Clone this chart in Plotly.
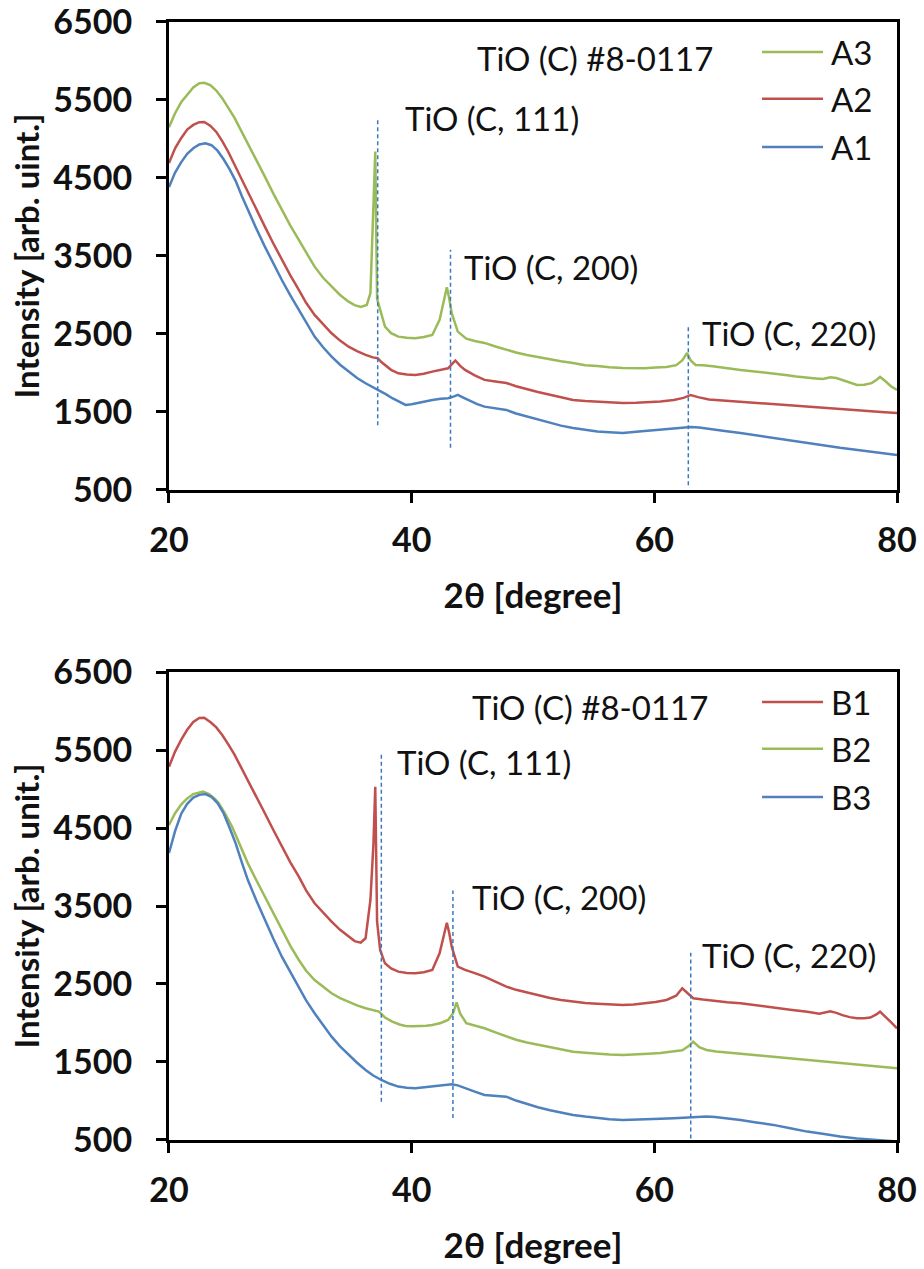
import plotly.graph_objects as go

# ---------------- data: panel A ----------------
a3_x = [20.0, 20.5, 21.0, 21.5, 22.0, 22.5, 22.9, 23.4, 23.9, 24.4, 24.9, 25.4, 25.9, 26.5, 27.2,
        27.9, 28.6, 29.3, 30.0, 30.7, 31.3, 32.0, 32.7, 33.4, 34.1, 34.8, 35.3, 35.8, 36.3, 36.6,
        36.85, 37.0, 37.15, 37.4, 37.8, 38.3, 38.9, 39.6, 40.3, 41.0, 41.7, 42.3, 42.6, 42.9,
        43.1, 43.3, 43.8, 44.5, 45.2, 46.0, 46.9, 47.8, 48.6, 49.5, 50.4, 51.4, 52.3, 53.3, 54.3,
        55.3, 56.3, 57.4, 58.3, 59.2, 60.1, 61.0, 61.8, 62.3, 62.7, 63.0, 63.4, 64.0, 64.8, 65.8,
        66.5, 67.1, 68.0, 69.0, 69.9, 70.8, 71.7, 72.6, 73.3, 73.9, 74.5, 75.0, 75.6, 76.2, 76.7,
        77.3, 77.9, 78.3, 78.6, 79.0, 79.5, 80.0]
a3_y = [5150, 5330, 5470, 5570, 5660, 5715, 5720, 5690, 5620, 5520, 5400, 5270, 5120, 4945, 4730,
        4517, 4300, 4090, 3890, 3705, 3540, 3363, 3220, 3107, 3000, 2914, 2870, 2846, 2872, 3022,
        4100, 4840, 2950, 2808, 2594, 2510, 2466, 2450, 2445, 2460, 2487, 2680, 2900, 3100,
        2950, 2766, 2530, 2440, 2410, 2385, 2340, 2295, 2262, 2230, 2205, 2170, 2150, 2128, 2100,
        2090, 2072, 2064, 2058, 2060, 2070, 2077, 2100, 2160, 2256, 2160, 2103, 2100, 2085, 2060,
        2050, 2038, 2025, 2010, 1990, 1975, 1955, 1936, 1930, 1922, 1945, 1935, 1900, 1870, 1846,
        1850, 1870, 1910, 1949, 1900, 1830, 1782]

a2_x = [20.0, 20.5, 21.0, 21.5, 22.0, 22.5, 22.9, 23.4, 23.9, 24.4, 24.9, 25.4, 25.9, 26.5, 27.2,
        27.9, 28.6, 29.3, 30.0, 30.7, 31.3, 32.0, 32.7, 33.4, 34.1, 34.8, 35.5, 36.2, 36.8, 37.2,
        37.5, 37.8, 38.3, 38.9, 39.6, 40.3, 41.0, 41.7, 42.4, 43.0, 43.3, 43.6, 44.0, 44.4, 45.2,
        46.0, 46.9, 47.8, 48.6, 49.5, 50.4, 51.4, 52.3, 53.3, 54.3, 55.3, 56.3, 57.4, 58.5, 59.5,
        60.5, 61.6, 62.4, 63.0, 63.6, 64.5, 65.8, 67.1, 68.4, 69.8, 71.2, 72.6, 73.9, 75.3, 76.6,
        78.0, 79.0, 80.0]
a2_y = [4692, 4880, 5010, 5120, 5180, 5215, 5218, 5170, 5090, 4970, 4830, 4670, 4500, 4304, 4090,
        3876, 3660, 3449, 3250, 3064, 2900, 2744, 2620, 2509, 2415, 2337, 2280, 2231, 2200, 2189,
        2140, 2103, 2040, 1996, 1980, 1975, 1990, 2017, 2040, 2060, 2110, 2160, 2090, 2039, 1970,
        1911, 1890, 1872, 1830, 1790, 1755, 1720, 1688, 1654, 1640, 1630, 1620, 1615, 1618, 1625,
        1635, 1654, 1680, 1718, 1690, 1660, 1645, 1628, 1612, 1600, 1580, 1564, 1550, 1530, 1518,
        1505, 1495, 1487]

a1_x = [20.0, 20.5, 21.0, 21.5, 22.0, 22.5, 23.0, 23.5, 24.0, 24.5, 25.0, 25.5, 26.0, 26.5, 27.2,
        27.9, 28.6, 29.3, 30.0, 30.7, 31.3, 32.0, 32.7, 33.4, 34.1, 34.8, 35.5, 36.2, 36.8, 37.3,
        37.9, 38.4, 39.0, 39.5, 40.0, 40.6, 41.2, 41.7, 42.4, 43.0, 43.5, 43.8, 44.3, 44.8, 45.4,
        46.0, 46.9, 47.8, 48.6, 49.5, 50.4, 51.4, 52.3, 53.3, 54.3, 55.3, 56.3, 57.4, 58.5, 59.5,
        60.5, 61.6, 62.3, 63.0, 63.7, 64.5, 65.8, 67.1, 68.4, 69.8, 71.2, 72.6, 73.9, 75.3, 76.6,
        78.0, 79.0, 80.0]
a1_y = [4385, 4570, 4700, 4810, 4880, 4930, 4945, 4920, 4850, 4740, 4610, 4460, 4270, 4090, 3850,
        3619, 3400, 3192, 2995, 2808, 2640, 2466, 2330, 2209, 2105, 2017, 1935, 1868, 1820, 1782,
        1725, 1676, 1625, 1590, 1600, 1620, 1640, 1654, 1668, 1676, 1700, 1718, 1680, 1640, 1600,
        1568, 1548, 1526, 1480, 1440, 1400, 1360, 1325, 1295, 1270, 1250, 1240, 1231, 1245, 1260,
        1275, 1295, 1300, 1308, 1300, 1280, 1255, 1231, 1200, 1170, 1135, 1103, 1070, 1040, 1015,
        990, 970, 949]

# ---------------- data: panel B ----------------
b1_x = [20.0, 20.5, 21.0, 21.5, 22.0, 22.5, 22.9, 23.4, 23.9, 24.4, 24.9, 25.4, 25.9, 26.5, 27.2,
        27.9, 28.6, 29.3, 30.0, 30.7, 31.3, 32.0, 32.7, 33.4, 34.1, 34.8, 35.3, 35.8, 36.2, 36.6,
        36.85, 37.0, 37.15, 37.4, 37.8, 38.3, 38.9, 39.6, 40.3, 41.0, 41.7, 42.3, 42.6, 42.9,
        43.1, 43.3, 43.8, 44.4, 45.2, 46.0, 46.9, 47.8, 48.6, 49.5, 50.4, 51.4, 52.3, 53.3, 54.3,
        55.3, 56.3, 57.4, 58.3, 59.2, 60.1, 61.0, 61.8, 62.3, 62.8, 63.2, 64.0, 65.0, 66.0, 67.1,
        68.4, 69.8, 71.2, 72.6, 73.6, 74.5, 75.0, 75.5, 76.1, 76.7, 77.3, 77.8, 78.3, 78.6, 79.0,
        79.5, 80.0]
b1_y = [5286, 5480, 5630, 5760, 5860, 5912, 5915, 5860, 5790, 5690, 5570, 5440, 5290, 5115, 4900,
        4689, 4475, 4261, 4060, 3876, 3700, 3535, 3410, 3299, 3195, 3107, 3050, 3030, 3086, 3577,
        4300, 5030, 3300, 2936, 2765, 2700, 2658, 2640, 2637, 2650, 2680, 2894, 3100, 3286,
        3150, 2978, 2722, 2680, 2640, 2594, 2530, 2466, 2425, 2390, 2355, 2320, 2295, 2273, 2255,
        2245, 2238, 2231, 2238, 2250, 2270, 2295, 2350, 2445, 2380, 2317, 2300, 2280, 2265, 2253,
        2225, 2200, 2170, 2145, 2120, 2150, 2130, 2100, 2075, 2060, 2060, 2070, 2110, 2145, 2090,
        2010, 1932]

b2_x = [20.0, 20.5, 21.0, 21.5, 22.0, 22.5, 22.8, 23.3, 23.8, 24.1, 24.6, 25.2, 25.8, 26.5, 27.2,
        27.9, 28.6, 29.3, 30.0, 30.7, 31.3, 32.0, 32.7, 33.4, 34.1, 34.8, 35.5, 36.2, 36.8, 37.3,
        37.8, 38.4, 39.0, 39.5, 40.1, 40.6, 41.2, 41.7, 42.4, 43.0, 43.4, 43.7, 44.0, 44.5, 45.2,
        46.0, 46.9, 47.8, 48.6, 49.5, 50.4, 51.4, 52.3, 53.3, 54.3, 55.3, 56.3, 57.4, 58.5, 59.5,
        60.5, 61.6, 62.3, 62.8, 63.2, 63.7, 64.3, 65.1, 66.0, 67.0, 67.9, 68.9, 69.8, 71.2, 72.5,
        73.9, 75.3, 76.5, 77.6, 78.8, 80.0]
b2_y = [4540, 4690, 4800, 4880, 4935, 4960, 4966, 4935, 4870, 4817, 4690, 4517, 4290, 4047, 3830,
        3619, 3400, 3192, 2990, 2808, 2670, 2551, 2460, 2381, 2320, 2273, 2225, 2189, 2165, 2145,
        2070, 2017, 1980, 1962, 1958, 1960, 1965, 1975, 2000, 2039, 2120, 2265, 2120, 1996, 1965,
        1932, 1880, 1825, 1785, 1750, 1720, 1690, 1660, 1632, 1618, 1605, 1595, 1590, 1595, 1605,
        1615, 1632, 1650, 1700, 1760, 1690, 1654, 1635, 1620, 1605, 1595, 1580, 1568, 1548, 1530,
        1505, 1483, 1465, 1450, 1435, 1419]

b3_x = [20.0, 20.5, 21.0, 21.5, 22.0, 22.5, 23.0, 23.5, 24.0, 24.5, 25.0, 25.5, 26.0, 26.5, 27.2,
        27.9, 28.6, 29.3, 30.0, 30.7, 31.3, 32.0, 32.7, 33.4, 34.1, 34.8, 35.5, 36.2, 36.8, 37.5,
        38.2, 38.9, 39.6, 40.3, 41.0, 41.7, 42.5, 43.3, 43.8, 44.4, 45.2, 46.0, 46.9, 47.8, 48.6,
        49.5, 50.4, 51.4, 52.3, 53.3, 54.3, 55.3, 56.3, 57.4, 58.5, 59.5, 60.5, 61.6, 62.3, 63.0,
        63.7, 64.3, 65.0, 65.7, 66.4, 67.1, 68.4, 69.8, 71.2, 72.6, 74.0, 75.3, 76.7, 78.1, 79.0,
        80.0]
b3_y = [4180, 4460, 4680, 4810, 4890, 4925, 4936, 4900, 4820, 4690, 4500, 4300, 4060, 3833, 3570,
        3321, 3080, 2850, 2650, 2466, 2290, 2124, 1970, 1825, 1700, 1590, 1490, 1398, 1330, 1269,
        1220, 1184, 1168, 1163, 1175, 1184, 1200, 1215, 1200, 1163, 1120, 1077, 1068, 1055, 1005,
        960, 920, 880, 850, 821, 800, 780, 765, 757, 760, 765, 772, 778, 785, 790,
        795, 799, 795, 785, 772, 757, 725, 693, 650, 607, 575, 543, 520, 500, 490,
        480]

# reference reflections (TiO cubic, #8-0117): position and vertical extent of the markers
a_ref_pos = [37.2, 43.2, 62.8]
a_ref_low = [1330, 1040, 560]
a_ref_high = [5270, 3580, 2615]
b_ref_pos = [37.5, 43.4, 63.0]
b_ref_low = [990, 780, 520]
b_ref_high = [5470, 3700, 2900]

ref_labels = ["TiO (C, 111)", "TiO (C, 200)", "TiO (C, 220)"]
a_label_x = [39.3, 44.15, 63.77]
a_label_y = [5269, 3359, 2513]
b_label_x = [38.6, 44.8, 63.77]
b_label_y = [5346, 3616, 2872]
card_text = "TiO (C) #8-0117"

x_ticks = [20, 40, 60, 80]
y_ticks = [500, 1500, 2500, 3500, 4500, 5500, 6500]

GREEN = "#9BBB59"
RED = "#C0504D"
BLUE = "#4F81BD"
DASH = "#3A78C2"
FONT = "Lato"
INK = "#111111"

panel_a = [("A3", a3_x, a3_y, GREEN), ("A2", a2_x, a2_y, RED), ("A1", a1_x, a1_y, BLUE)]
panel_b = [("B1", b1_x, b1_y, RED), ("B2", b2_x, b2_y, GREEN), ("B3", b3_x, b3_y, BLUE)]

fig = go.Figure()

for series, xa, ya in [(panel_a, "x", "y"), (panel_b, "x2", "y2")]:
    for name, xs, ys, col in series:
        fig.add_trace(go.Scatter(x=xs, y=ys, mode="lines", name=name, xaxis=xa, yaxis=ya,
                                 line=dict(color=col, width=2.5), showlegend=False))

shapes = []
annotations = []
label_font = dict(family=FONT, size=33, color=INK)

# dashed reflection markers and their labels
for pos, lo, hi, lx, ly, xr, yr in [
    (a_ref_pos, a_ref_low, a_ref_high, a_label_x, a_label_y, "x", "y"),
    (b_ref_pos, b_ref_low, b_ref_high, b_label_x, b_label_y, "x2", "y2"),
]:
    for p, l, h in zip(pos, lo, hi):
        shapes.append(dict(type="line", xref=xr, yref=yr, x0=p, x1=p, y0=l, y1=h,
                           line=dict(color=DASH, width=1.5, dash="4px,3px")))
    for t, tx, ty in zip(ref_labels, lx, ly):
        annotations.append(dict(text=t, x=tx, y=ty, xref=xr, yref=yr, xanchor="left",
                                yanchor="middle", showarrow=False, font=label_font))

annotations.append(dict(text=card_text, x=45.2, y=6038, xref="x", yref="y", xanchor="left",
                        yanchor="middle", showarrow=False, font=label_font))
annotations.append(dict(text=card_text, x=44.8, y=6051, xref="x2", yref="y2", xanchor="left",
                        yanchor="middle", showarrow=False, font=label_font))

# legend boxes drawn inside each panel
legend_rows = [0.936, 0.836, 0.733]
for series, xr, yr in [(panel_a, "x domain", "y domain"), (panel_b, "x2 domain", "y2 domain")]:
    for (name, _, _, col), ry in zip(series, legend_rows):
        shapes.append(dict(type="line", xref=xr, yref=yr, x0=0.8146, x1=0.8984, y0=ry, y1=ry,
                           line=dict(color=col, width=2.5)))
        annotations.append(dict(text=name, x=0.906, y=ry, xref=xr, yref=yr, xanchor="left",
                                yanchor="middle", showarrow=False, font=label_font))

tick_font = dict(family=FONT, size=34, color=INK, weight="bold")
xtitle_font = dict(family=FONT, size=35, color=INK, weight="bold")
ytitle_font = dict(family=FONT, size=33, color=INK, weight="bold")


def x_axis(anchor, domain):
    return dict(domain=domain, anchor=anchor, range=[20, 80], tickvals=x_ticks,
                showline=True, linewidth=3, linecolor="black", mirror=True,
                ticks="outside", ticklen=10, tickwidth=3, tickcolor="black",
                showgrid=False, zeroline=False, tickfont=tick_font, ticklabelstandoff=8,
                automargin=False, ticklabeloverflow="allow",
                title=dict(text="2θ [degree]", font=xtitle_font, standoff=26))


def y_axis(anchor, domain, title):
    return dict(domain=domain, anchor=anchor, range=[500, 6500], tickvals=y_ticks,
                showline=True, linewidth=3, linecolor="black", mirror=True,
                ticks="outside", ticklen=10, tickwidth=3, tickcolor="black",
                showgrid=False, zeroline=False, tickfont=tick_font, ticklabelstandoff=17,
                automargin=False, ticklabeloverflow="allow",
                title=dict(text=title, font=ytitle_font, standoff=4))


fig.update_layout(
    width=924, height=1269,
    margin=dict(l=0, r=0, t=0, b=0),
    paper_bgcolor="white", plot_bgcolor="white",
    xaxis=x_axis("y", [0.1829, 0.9708]),
    yaxis=y_axis("x", [0.6139, 0.9827], "Intensity [arb. uint.]"),
    xaxis2=x_axis("y2", [0.1829, 0.9708]),
    yaxis2=y_axis("x2", [0.1017, 0.4704], "Intensity [arb. unit.]"),
    shapes=shapes,
    annotations=annotations,
    showlegend=False,
)

fig.write_html("out.html")
